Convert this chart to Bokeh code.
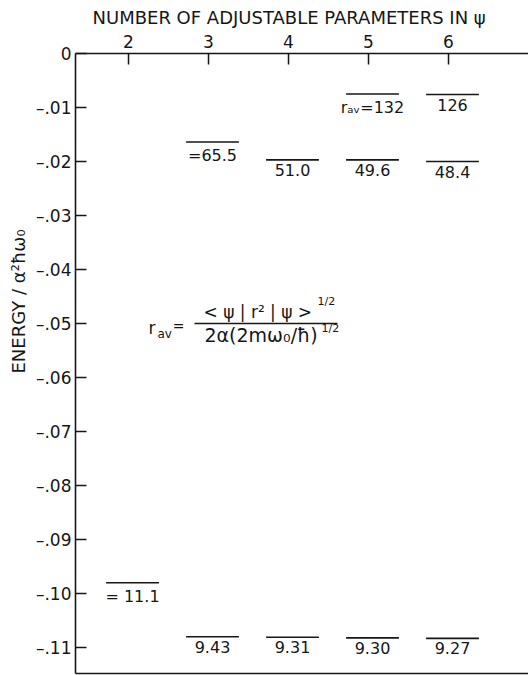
import math
from bokeh.plotting import figure
from bokeh.models import ColumnDataSource, LinearAxis, FixedTicker, Label, Range1d, Title
from bokeh.transform import dodge
from bokeh.core.properties import value
from bokeh.embed import file_html
from bokeh.resources import INLINE

# ---------------- data ----------------
n_params = [2, 3, 3, 4, 4, 5, 5, 5, 6, 6, 6]
energy = [-0.0980, -0.0164, -0.1080, -0.0197, -0.1081,
          -0.0075, -0.0197, -0.1082, -0.0076, -0.0200, -0.1083]
r_av_text = ["= 11.1", "=65.5", "9.43", "51.0", "9.31",
             "rₐᵥ=132", "49.6", "9.30", "126", "48.4", "9.27"]

x_ticks = [2, 3, 4, 5, 6]
y_ticks = [0, -0.01, -0.02, -0.03, -0.04, -0.05, -0.06,
           -0.07, -0.08, -0.09, -0.10, -0.11]
y_tick_labels = ["0", "–.01", "–.02", "–.03", "–.04", "–.05", "–.06",
                 "–.07", "–.08", "–.09", "–.10", "–.11"]

x_title = "NUMBER OF ADJUSTABLE PARAMETERS IN ψ"
y_title = "ENERGY / α²ħω₀"

# ---------------- style ----------------
FONT = "DejaVu Sans"
INK = "#161616"

src = ColumnDataSource(dict(n=n_params, e=energy, label=r_av_text))

p = figure(width=528, height=675,
           x_range=Range1d(1.3375, 7.0), y_range=Range1d(-0.1148, 0.0),
           x_axis_location="above", output_backend="svg", toolbar_location=None,
           min_border_left=75, min_border_right=0, min_border_top=53, min_border_bottom=2)
p.outline_line_color = None
p.grid.visible = False
p.background_fill_color = "white"
p.border_fill_color = "white"

def style_axis(ax, size):
    ax.axis_line_color = INK
    ax.axis_line_width = 1.6
    ax.major_tick_line_color = INK
    ax.major_tick_line_width = 1.5
    ax.major_tick_in = 11
    ax.major_tick_out = 0
    ax.minor_tick_line_color = None
    ax.minor_tick_in = 0
    ax.minor_tick_out = 0
    ax.major_label_text_font = FONT
    ax.major_label_text_font_size = size
    ax.major_label_text_color = INK

xax = p.xaxis[0]
xax.ticker = FixedTicker(ticks=x_ticks)
style_axis(xax, "17px")
xax.major_label_standoff = 6

yax = p.yaxis[0]
yax.ticker = FixedTicker(ticks=y_ticks)
yax.major_label_overrides = {t: l for t, l in zip(y_ticks, y_tick_labels)}
style_axis(yax, "17px")
yax.major_label_standoff = 4

bax = LinearAxis(ticker=FixedTicker(ticks=[]))
style_axis(bax, "0px")
bax.major_tick_in = 0
p.add_layout(bax, "below")

# ---------------- titles ----------------
p.add_layout(Title(text=x_title, align="left", offset=17, standoff=8,
                   text_font=FONT, text_font_size="18px", text_font_style="normal",
                   text_color=INK), "above")
p.add_layout(Title(text=y_title, align="left", offset=300, standoff=8,
                   text_font=FONT, text_font_size="18px", text_font_style="normal",
                   text_color=INK), "left")

# ---------------- energy levels ----------------
half = 0.33
shift = 0.05
p.segment(x0=dodge("n", shift - half), y0="e", x1=dodge("n", shift + half), y1="e",
          source=src, line_width=1.6, line_color=INK)
p.text(x=dodge("n", shift), y="e", text="label", source=src,
       text_align="center", text_baseline="top", y_offset=4,
       text_font=value(FONT), text_font_size="16px", text_color=INK)

# ---------------- formula annotation ----------------
fx, fy, bar_len = 2.825, -0.05, 1.7875
p.line(x=[fx, fx + bar_len], y=[fy, fy], line_color=INK, line_width=1.4)

def piece(text, dx, dy, size, align="left"):
    p.add_layout(Label(x=fx, y=fy, x_offset=dx, y_offset=-dy, text=text,
                       text_align=align, text_baseline="middle", text_font=FONT,
                       text_font_size=size, text_color=INK))

piece("r", -46, 4, "17px")
piece("av", -37, 10, "12px")
piece("=", -16, 2, "14px", "center")
piece("< ψ | r² | ψ >", 9, -12, "17px")
piece("1/2", 123, -22, "11px")
piece("2α(2mω₀/ħ)", 10, 11, "19px")
piece("1/2", 127, 5, "11px")

open("out.html", "w").write(file_html(p, INLINE))
